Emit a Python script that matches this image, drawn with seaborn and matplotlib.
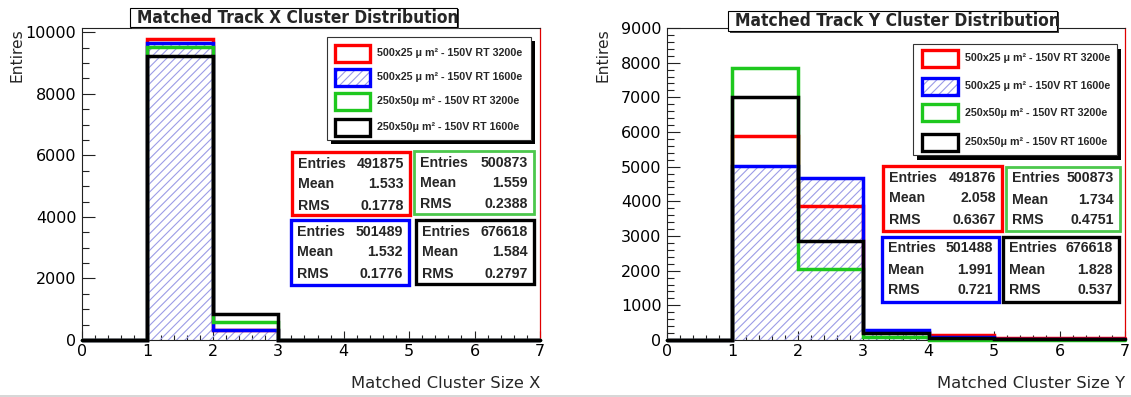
import matplotlib
matplotlib.use("Agg")
import matplotlib.pyplot as plt
import seaborn as sns
from matplotlib.patches import Rectangle
from matplotlib.lines import Line2D
from matplotlib.ticker import MultipleLocator
from matplotlib import font_manager

# ---- histogram binning (cluster size) ----
edges = [0, 1, 2, 3, 4, 5, 6, 7]
centers = [0.5, 1.5, 2.5, 3.5, 4.5, 5.5, 6.5]

series_labels = [
    "500x25 \u03bc m\u00b2 - 150V RT 3200e",
    "500x25 \u03bc m\u00b2 - 150V RT 1600e",
    "250x50\u03bc m\u00b2 - 150V RT 3200e",
    "250x50\u03bc m\u00b2 - 150V RT 1600e",
]
series_colors = ["#ff0000", "#0000ff", "#1ec81e", "#000000"]
stat_box_colors = ["#ff0000", "#0000ff", "#4cc84c", "#000000"]
hatch_color = "#9c9ce6"

# ---- X cluster size contents (red, blue, green, black) ----
x_red = [0, 9773, 340, 0, 0, 0, 0]
x_blue = [0, 9652, 319, 0, 0, 0, 0]
x_green = [0, 9522, 600, 0, 0, 0, 0]
x_black = [0, 9240, 850, 0, 0, 0, 0]

# ---- Y cluster size contents ----
y_red = [0, 5885, 3874, 240, 135, 66, 66]
y_blue = [0, 5016, 4676, 288, 90, 30, 20]
y_green = [0, 7846, 2048, 78, 0, 0, 0]
y_black = [0, 7018, 2856, 193, 49, 20, 20]

# ---- statistics boxes ----
x_entries = [491875, 501489, 500873, 676618]
x_mean = [1.533, 1.532, 1.559, 1.584]
x_rms = [0.1778, 0.1776, 0.2388, 0.2797]

y_entries = [491876, 501488, 500873, 676618]
y_mean = [2.058, 1.991, 1.734, 1.828]
y_rms = [0.6367, 0.721, 0.4751, 0.537]

x_title = "Matched Track X Cluster Distribution"
y_title = "Matched Track Y Cluster Distribution"
x_axis_label = "Matched Cluster Size X"
y_axis_label = "Matched Cluster Size Y"
entries_label = "Entires"

W, H = 1131, 397
DPI = 100

sns.set_style("ticks")
plt.rcParams["font.family"] = ["DejaVu Sans"]
plt.rcParams["hatch.linewidth"] = 0.8
plt.rcParams["hatch.color"] = hatch_color


def has_font(name, weight="normal"):
    try:
        font_manager.findfont(font_manager.FontProperties(family=name, weight=weight),
                              fallback_to_default=False)
        return True
    except Exception:
        return False


def title_font_props():
    # prefer a narrow bold face for the boxed titles
    if has_font("Liberation Sans Narrow", "bold"):
        return dict(family="Liberation Sans Narrow", fontweight="bold")
    try:
        path = font_manager.findfont(
            font_manager.FontProperties(family="DejaVu Sans", weight="bold",
                                        stretch="condensed"),
            fallback_to_default=False)
        if "Condensed" in path:
            return dict(family="DejaVu Sans", fontweight="bold", fontstretch="condensed")
    except Exception:
        pass
    return dict(family="Liberation Sans", fontweight="bold")


title_props = title_font_props()
box_family = "Liberation Sans" if has_font("Liberation Sans", "bold") else "DejaVu Sans"


def fx(px):
    return px / W


def fy(py):
    return 1 - py / H


fig = plt.figure(figsize=(W / DPI, H / DPI), dpi=DPI)
fig.patch.set_facecolor("white")
renderer = fig.canvas.get_renderer()


def fit_width(t, target_px, vertical=False):
    bb = t.get_window_extent(renderer)
    cur = bb.height if vertical else bb.width
    t.set_fontsize(t.get_fontsize() * target_px / cur)
    return t.get_fontsize()


def draw_panel(ax_px, contents, ylim, ymajor, yminor, title, title_box, xlabel,
               ylabel_x, legend_box, legend_rows, swatch_x, text_x,
               stat_boxes, entries, means, rmss):
    x0, x1, ytop, ybot = ax_px
    ax = fig.add_axes([fx(x0), fy(ybot), (x1 - x0) / W, (ybot - ytop) / H])
    ax.set_facecolor("white")

    # hatched fill of the 1600e 500x25 sample
    sns.histplot(x=centers, weights=contents[1], bins=edges, element="step",
                 fill=True, color=hatch_color, facecolor="none", edgecolor=hatch_color,
                 hatch="////", linewidth=0, ax=ax, zorder=1)
    # outlines
    for vals, col, z in zip(contents, series_colors, [3, 4, 5, 6]):
        sns.histplot(x=centers, weights=vals, bins=edges, element="step",
                     fill=False, color=col, linewidth=2.5, ax=ax, zorder=z)
    for ln in ax.lines:
        ln.set_clip_on(False)
        ln.set_solid_joinstyle("miter")

    ax.set_xlim(0, 7)
    ax.set_ylim(*ylim)
    ax.set_xlabel("")
    ax.set_ylabel("")
    ax.xaxis.set_major_locator(MultipleLocator(1))
    ax.xaxis.set_minor_locator(MultipleLocator(0.2))
    ax.yaxis.set_major_locator(MultipleLocator(ymajor))
    ax.yaxis.set_minor_locator(MultipleLocator(yminor))
    ax.tick_params(axis="both", which="both", direction="in", top=False, right=False,
                   colors="#222222", labelcolor="black")
    ax.tick_params(axis="y", which="major", length=9.5, width=0.8, labelsize=11.5, pad=4)
    ax.tick_params(axis="y", which="minor", length=5, width=0.8)
    ax.tick_params(axis="x", which="major", length=6.5, width=0.8, labelsize=11.5, pad=3)
    ax.tick_params(axis="x", which="minor", length=3.5, width=0.8)
    for side in ["left", "top", "bottom"]:
        ax.spines[side].set_color("#222222")
        ax.spines[side].set_linewidth(0.8)
    ax.spines["right"].set_color("#e00000")
    ax.spines["right"].set_linewidth(0.9)

    # axis titles
    t = fig.text(fx(ylabel_x), fy(ytop), entries_label, rotation=90, ha="center",
                 va="top", fontsize=11)
    fit_width(t, 54, vertical=True)
    t = fig.text(fx(x1), fy(383), xlabel, ha="right", va="center", fontsize=11)
    fit_width(t, 189)

    # title box with thin shadow
    bx0, by0, bx1, by1 = title_box
    fig.add_artist(Rectangle((fx(bx0 + 1.5), fy(by1 + 1.5)), (bx1 - bx0) / W, (by1 - by0) / H,
                             transform=fig.transFigure, facecolor="#444444",
                             edgecolor="none", zorder=10))
    fig.add_artist(Rectangle((fx(bx0), fy(by1)), (bx1 - bx0) / W, (by1 - by0) / H,
                             transform=fig.transFigure, facecolor="white",
                             edgecolor="black", linewidth=0.8, zorder=11))
    t = fig.text(fx(bx0 + 7), fy((by0 + by1) / 2 + 0.5), title, ha="left",
                 va="center", fontsize=12, zorder=12, **title_props)
    fit_width(t, bx1 - bx0 - 6)

    # legend with drop shadow
    lx0, ly0, lx1, ly1 = legend_box
    fig.add_artist(Rectangle((fx(lx0 + 4), fy(ly1 + 4.5)), (lx1 - lx0) / W, (ly1 - ly0) / H,
                             transform=fig.transFigure, facecolor="black",
                             edgecolor="none", zorder=10))
    fig.add_artist(Rectangle((fx(lx0), fy(ly1)), (lx1 - lx0) / W, (ly1 - ly0) / H,
                             transform=fig.transFigure, facecolor="white",
                             edgecolor="#333333", linewidth=0.8, zorder=11))
    sw0, sw1 = swatch_x
    leg_size = None
    for i, (lab, col, yc) in enumerate(zip(series_labels, series_colors, legend_rows)):
        sh = 17
        fig.add_artist(Rectangle((fx(sw0), fy(yc + sh / 2)), (sw1 - sw0) / W, sh / H,
                                 transform=fig.transFigure, facecolor="white",
                                 edgecolor="none", zorder=12))
        if i == 1:
            fig.add_artist(Rectangle((fx(sw0), fy(yc + sh / 2)), (sw1 - sw0) / W, sh / H,
                                     transform=fig.transFigure, facecolor="none",
                                     edgecolor=hatch_color, linewidth=0, hatch="////",
                                     zorder=12.5))
        fig.add_artist(Rectangle((fx(sw0), fy(yc + sh / 2)), (sw1 - sw0) / W, sh / H,
                                 transform=fig.transFigure, facecolor="none",
                                 edgecolor=col, linewidth=2.4, zorder=13))
        t = fig.text(fx(text_x), fy(yc), lab, ha="left", va="center", fontsize=8,
                     fontweight="bold", family=box_family, zorder=13)
        if leg_size is None:
            leg_size = fit_width(t, 145)
        else:
            t.set_fontsize(leg_size)

    # statistics boxes (order: red, blue, green, black)
    st_size = None
    for (sx0, sy0, sx1, sy1), col, n, m, r in zip(stat_boxes, stat_box_colors,
                                                  entries, means, rmss):
        lw = 2.0 if col == "#4cc84c" else 2.4
        fig.add_artist(Rectangle((fx(sx0), fy(sy1)), (sx1 - sx0) / W, (sy1 - sy0) / H,
                                 transform=fig.transFigure, facecolor="white",
                                 edgecolor=col, linewidth=lw, zorder=11))
        for k, (name, val) in enumerate([("Entries", str(n)), ("Mean", str(m)),
                                         ("RMS", str(r))]):
            yy = sy0 + 11.5 + 21 * k
            t1 = fig.text(fx(sx0 + 6), fy(yy), name, ha="left", va="center",
                          fontsize=10, fontweight="bold", family=box_family, zorder=12)
            if st_size is None:
                st_size = fit_width(t1, 48)
            t1.set_fontsize(st_size)
            fig.text(fx(sx1 - 6), fy(yy), val, ha="right", va="center",
                     fontsize=st_size, fontweight="bold", family=box_family, zorder=12)
    return ax


draw_panel(
    ax_px=(82, 540, 28, 340),
    contents=[x_red, x_blue, x_green, x_black],
    ylim=(0, 10140), ymajor=2000, yminor=500,
    title=x_title, title_box=(130, 8, 457, 27),
    xlabel=x_axis_label, ylabel_x=17,
    legend_box=(327, 37, 531, 140), legend_rows=[53, 77, 101, 127],
    swatch_x=(335, 370), text_x=377,
    stat_boxes=[(292, 152, 410, 215), (291, 220, 409, 285),
                (414, 151, 534, 214), (416, 220, 534, 284)],
    entries=x_entries, means=x_mean, rmss=x_rms,
)

draw_panel(
    ax_px=(667, 1125, 28, 340),
    contents=[y_red, y_blue, y_green, y_black],
    ylim=(0, 9000), ymajor=1000, yminor=200,
    title=y_title, title_box=(728, 11, 1057, 31),
    xlabel=y_axis_label, ylabel_x=603,
    legend_box=(913, 44, 1117, 155), legend_rows=[58, 86, 113, 142],
    swatch_x=(922, 958), text_x=965,
    stat_boxes=[(883, 166, 1002, 231), (882, 237, 999, 302),
                (1006, 167, 1120, 231), (1003, 237, 1119, 302)],
    entries=y_entries, means=y_mean, rmss=y_rms,
)

fig.add_artist(Line2D([0, 1], [fy(396), fy(396)], transform=fig.transFigure,
                      color="#d0d0d0", linewidth=1.2))

fig.savefig("out.png", dpi=DPI, facecolor="white")
